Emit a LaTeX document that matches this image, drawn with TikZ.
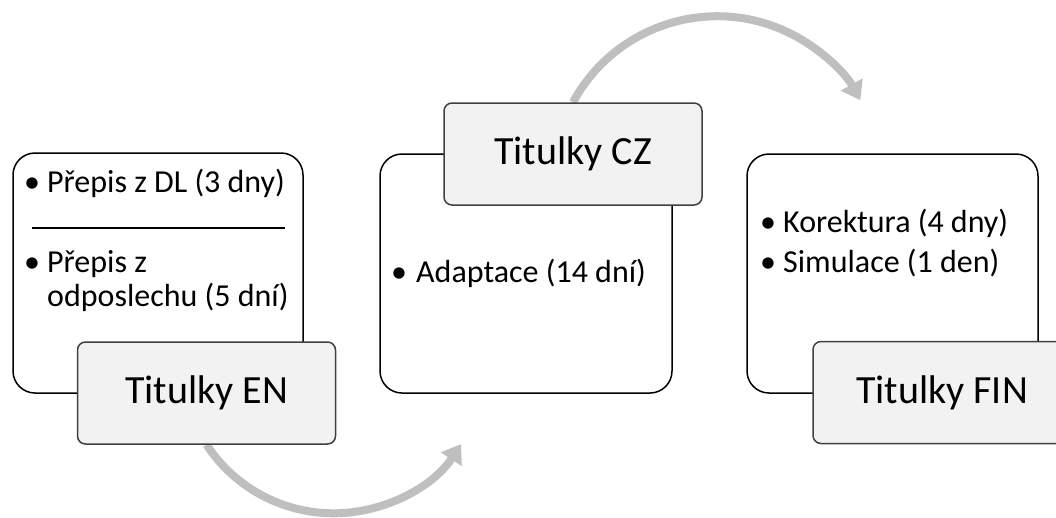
\documentclass[tikz,border=0pt]{standalone}
\usepackage{fontspec}
\setmainfont{Carlito}
\usetikzlibrary{arrows.meta,backgrounds}
\definecolor{arrowgray}{HTML}{BFBFBF}
\definecolor{titlefill}{HTML}{F2F2F2}
\definecolor{titleline}{HTML}{404040}
\tikzset{
  wbox/.style={draw=black, line width=1.5pt, fill=white, rounded corners=22pt, inner sep=0pt},
  tbox/.style={draw=titleline, line width=1.5pt, fill=titlefill, rounded corners=8pt, inner sep=0pt,
    minimum width=258pt, minimum height=102pt, font=\fontsize{40}{48}\selectfont},
  bul/.style={anchor=base, inner sep=0pt, font=\fontsize{32}{38}\selectfont},
  itm/.style={anchor=base west, inner sep=0pt, font=\fontsize{32}{38}\selectfont},
  flow/.style={draw=arrowgray, line width=8pt, -{Triangle[width=24pt,length=18pt]}},
}
\begin{document}
\begin{tikzpicture}[x=1pt,y=-1pt]
\useasboundingbox (0,0) rectangle (1056,517);
\clip (0,0) rectangle (1056,517);
% white content boxes
\node[wbox, minimum width=290pt, minimum height=240pt] (b1) at (158,273) {};
\node[wbox, minimum width=292pt, minimum height=239pt] (b2) at (526,273.5) {};
\node[wbox, minimum width=291pt, minimum height=239pt] (b3) at (892.5,273.5) {};
% content
\node[bul] (u1) at (32,192) {•};
\node[itm] (t1) at (47,192) {Přepis z DL (3 dny)};
\coordinate (dl) at (32,228);
\coordinate (dr) at (285,228);
\draw[line width=1.3pt] (dl) -- (dr);
\node[bul] (u2) at (32,272) {•};
\node[itm] (t2a) at (47,272) {Přepis z};
\node[itm] (t2b) at (47,306) {odposlechu (5 dní)};
\node[bul] (u3) at (399,282) {•};
\node[itm] (t3) at (416,282) {Adaptace (14 dní)};
\node[bul] (u4) at (768,232) {•};
\node[itm] (t4) at (783,232) {Korektura (4 dny)};
\node[bul] (u5) at (768,272) {•};
\node[itm] (t5) at (783,272) {Simulace (1 den)};
% title boxes
\node[tbox] (en) at (206.5,393) {Titulky EN};
\node[tbox] (cz) at (573,154) {Titulky CZ};
\node[tbox] (fin) at (942,392.5) {Titulky FIN};
% connectors (behind everything)
\begin{pgfonlayer}{background}
\draw[flow] (en.south) arc[start angle=213.3, end angle=327, radius=152pt] coordinate (tipa);
\draw[flow] (cz.north) arc[start angle=151.6, end angle=29.2, radius=164pt] coordinate (tipb);
\end{pgfonlayer}
\end{tikzpicture}
\end{document}
